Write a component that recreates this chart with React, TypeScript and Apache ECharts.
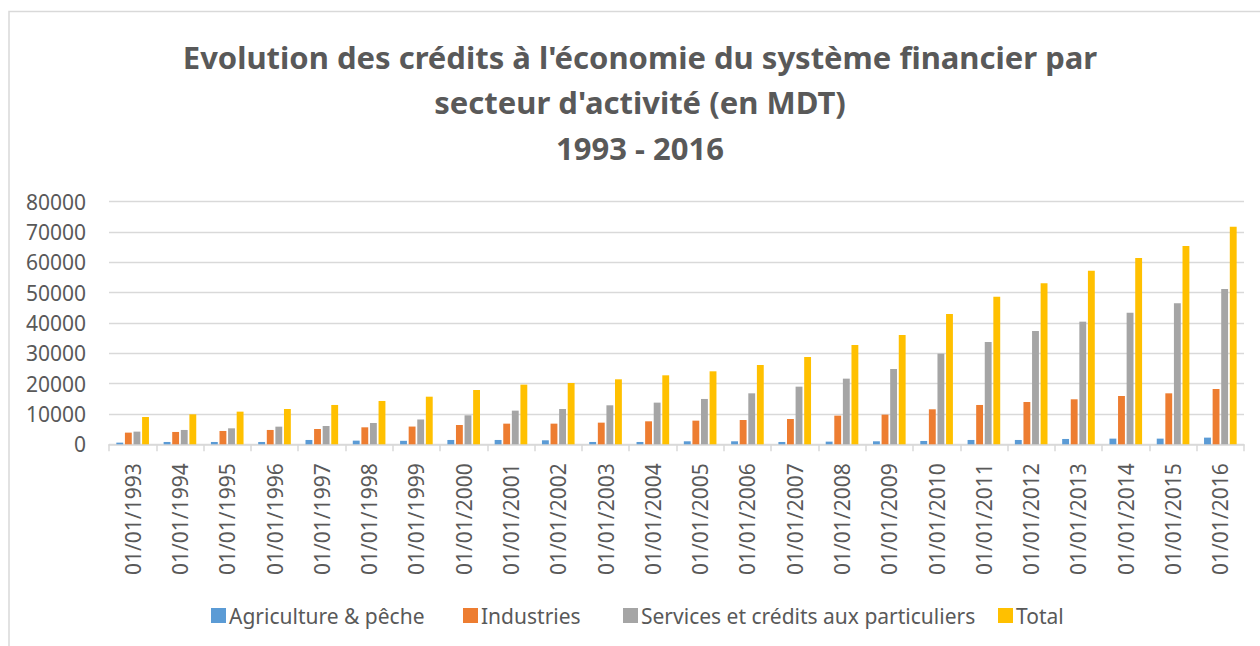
import React, { useEffect, useRef } from "react";
import * as echarts from "echarts";

const categories = [
  "01/01/1993", "01/01/1994", "01/01/1995", "01/01/1996", "01/01/1997", "01/01/1998",
  "01/01/1999", "01/01/2000", "01/01/2001", "01/01/2002", "01/01/2003", "01/01/2004",
  "01/01/2005", "01/01/2006", "01/01/2007", "01/01/2008", "01/01/2009", "01/01/2010",
  "01/01/2011", "01/01/2012", "01/01/2013", "01/01/2014", "01/01/2015", "01/01/2016",
];

const seriesNames = [
  "Agriculture & pêche",
  "Industries",
  "Services et crédits aux particuliers",
  "Total",
];

const agriculture = [
  550, 770, 770, 770, 1430, 1210, 1150, 1430, 1430, 1320, 770, 770,
  990, 990, 770, 880, 990, 1100, 1430, 1430, 1760, 1870, 1870, 2200,
];
const industries = [
  3850, 4070, 4400, 4730, 5050, 5600, 5850, 6370, 6810, 6810, 7140, 7580,
  7800, 8020, 8350, 9450, 9780, 11540, 12970, 13960, 14840, 15930, 16810, 18240,
];
const services = [
  4180, 4730, 5270, 5820, 6040, 7030, 8180, 9560, 11100, 11650, 12860, 13740,
  14950, 16810, 19010, 21650, 24840, 29890, 33740, 37360, 40440, 43410, 46480, 51210,
];
const total = [
  9010, 9890, 10770, 11650, 12970, 14290, 15700, 17910, 19670, 20220, 21430, 22750,
  24070, 26150, 28790, 32750, 36040, 42970, 48680, 53080, 57250, 61430, 65380, 71760,
];

const yMin = 0;
const yMax = 80000;
const yInterval = 10000;

const colors = ["#5B9BD5", "#ED7D31", "#A5A5A5", "#FFC000"];
const values = [agriculture, industries, services, total];
const legendLefts = [211, 463, 623, 998];

const FONT = "'Noto Sans', sans-serif";
const TEXT = "#595959";
const LINE = "#D9D9D9";

export default function App() {
  const ref = useRef<HTMLDivElement>(null);

  useEffect(() => {
    const chart = echarts.init(ref.current!, null, { renderer: "svg" });
    chart.setOption({
      animation: false,
      backgroundColor: "#ffffff",
      color: colors,
      title: {
        text:
          "Evolution des crédits à l'économie du système financier par\nsecteur d'activité (en MDT)\n1993 - 2016",
        left: 640,
        top: 34,
        padding: 0,
        textAlign: "center",
        textStyle: {
          fontFamily: FONT,
          fontWeight: "bold",
          fontSize: 31,
          color: TEXT,
          lineHeight: 45.5,
        },
      },
      graphic: [
        {
          type: "rect",
          shape: { x: 9, y: 11.5, width: 1400, height: 800 },
          style: { fill: "none", stroke: LINE, lineWidth: 1.5 },
          silent: true,
        },
      ],
      legend: seriesNames.map((name, i) => ({
        data: [name],
        left: legendLefts[i],
        top: 605,
        padding: 0,
        icon: "rect",
        itemWidth: 15,
        itemHeight: 15,
        selectedMode: false,
        textStyle: { fontFamily: FONT, fontSize: 21, color: TEXT, padding: [0, 0, 0, -2] },
      })),
      grid: { left: 109, right: 16, top: 201.7, bottom: 201.7, containLabel: false },
      xAxis: {
        type: "category",
        data: categories,
        axisLine: { lineStyle: { color: LINE, width: 1.5 } },
        axisTick: { show: true, alignWithLabel: false, length: 7, lineStyle: { color: LINE, width: 1.5 } },
        axisLabel: {
          interval: 0,
          rotate: 90,
          margin: 19,
          fontFamily: FONT,
          fontSize: 21,
          color: TEXT,
        },
        splitLine: { show: false },
      },
      yAxis: {
        type: "value",
        min: yMin,
        max: yMax,
        interval: yInterval,
        axisLine: { show: false },
        axisTick: { show: false },
        axisLabel: {
          margin: 23,
          fontFamily: FONT,
          fontSize: 21,
          color: TEXT,
          formatter: (v: number) => String(v),
        },
        splitLine: { lineStyle: { color: LINE, width: 1.3 } },
      },
      series: seriesNames.map((name, i) => ({
        name,
        type: "bar",
        data: values[i],
        barGap: "25%",
        barCategoryGap: "31%",
        itemStyle: { color: colors[i] },
      })),
    });
    return () => chart.dispose();
  }, []);

  return (
    <div
      ref={ref}
      style={{ position: "absolute", left: 0, top: 0, width: 1260, height: 646, background: "#fff" }}
    />
  );
}
